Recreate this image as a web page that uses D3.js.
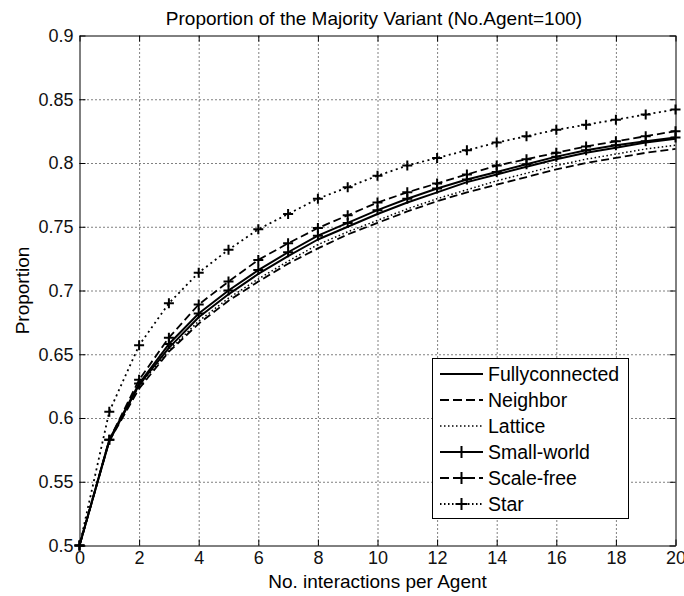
<!DOCTYPE html>
<html>
<head>
<meta charset="utf-8">
<script src="https://cdn.jsdelivr.net/npm/d3@7/dist/d3.min.js"></script>
<style>
  html, body { margin: 0; padding: 0; background: #fff; }
  svg { display: block; font-family: "Liberation Sans", Arial, Helvetica, sans-serif; }
</style>
</head>
<body>
<svg id="chart" width="684" height="596"></svg>
<script>
// ---- data ----
const xValues = d3.range(0, 21); // interactions 0..20
const seriesNames = ["Fullyconnected", "Neighbor", "Lattice", "Small-world", "Scale-free", "Star"];
const fullyconnected = [0.500, 0.582, 0.626, 0.655, 0.679, 0.697, 0.713, 0.727, 0.740, 0.750, 0.760, 0.769, 0.777, 0.785, 0.791, 0.797, 0.803, 0.808, 0.812, 0.816, 0.819];
const neighbor       = [0.500, 0.582, 0.623, 0.652, 0.674, 0.692, 0.707, 0.721, 0.733, 0.744, 0.753, 0.762, 0.770, 0.777, 0.783, 0.789, 0.795, 0.800, 0.804, 0.808, 0.811];
const lattice        = [0.500, 0.583, 0.625, 0.653, 0.676, 0.694, 0.709, 0.723, 0.736, 0.746, 0.755, 0.764, 0.772, 0.779, 0.786, 0.792, 0.798, 0.803, 0.807, 0.811, 0.814];
const smallWorld     = [0.500, 0.583, 0.627, 0.658, 0.682, 0.700, 0.716, 0.730, 0.743, 0.753, 0.763, 0.772, 0.780, 0.787, 0.793, 0.799, 0.805, 0.810, 0.814, 0.817, 0.820];
const scaleFree      = [0.500, 0.583, 0.630, 0.663, 0.689, 0.707, 0.724, 0.737, 0.749, 0.759, 0.769, 0.777, 0.784, 0.791, 0.798, 0.803, 0.808, 0.813, 0.817, 0.821, 0.825];
const star           = [0.500, 0.605, 0.657, 0.690, 0.714, 0.732, 0.748, 0.760, 0.772, 0.781, 0.790, 0.798, 0.804, 0.810, 0.816, 0.821, 0.826, 0.830, 0.834, 0.838, 0.842];
const xTickValues = [0, 2, 4, 6, 8, 10, 12, 14, 16, 18, 20];
const yTickValues = [0.5, 0.55, 0.6, 0.65, 0.7, 0.75, 0.8, 0.85, 0.9];
const yTickLabels = ["0.5", "0.55", "0.6", "0.65", "0.7", "0.75", "0.8", "0.85", "0.9"];
const titleText = "Proportion of the Majority Variant (No.Agent=100)";
const xLabelText = "No. interactions per Agent";
const yLabelText = "Proportion";

// ---- styles (not data) ----
const styles = {
  "Fullyconnected": { dash: null, width: 2, marker: false },
  "Neighbor":       { dash: "8,4", width: 1.8, marker: false },
  "Lattice":        { dash: "1.5,2.5", width: 1.5, marker: false },
  "Small-world":    { dash: null, width: 2, marker: true },
  "Scale-free":     { dash: "8,4", width: 1.8, marker: true },
  "Star":           { dash: "2,3.5", width: 1.8, marker: true }
};
const allSeries = [fullyconnected, neighbor, lattice, smallWorld, scaleFree, star];

const svg = d3.select("#chart");
const L = 79.5, R = 675.5, T = 35.5, B = 545.5;
const x = d3.scaleLinear().domain([0, 20]).range([L, R]);
const y = d3.scaleLinear().domain([0.5, 0.9]).range([B, T]);

// grid
const gridX = svg.append("g").attr("transform", `translate(0,${B})`)
  .call(d3.axisBottom(x).tickValues(xTickValues.slice(1, -1)).tickSize(-(B - T)).tickFormat(""));
const gridY = svg.append("g").attr("transform", `translate(${L},0)`)
  .call(d3.axisLeft(y).tickValues(yTickValues.slice(1, -1)).tickSize(-(R - L)).tickFormat(""));
[gridX, gridY].forEach(g => {
  g.select(".domain").remove();
  g.selectAll("line").attr("stroke", "#000").attr("stroke-width", 1).attr("stroke-dasharray", "1,3");
});

// lines
const line = d3.line().x((d, i) => x(xValues[i])).y(d => y(d));
const plot = svg.append("g");
function plus(g, cx, cy, s) {
  g.append("path")
    .attr("d", `M${cx - s},${cy}H${cx + s}M${cx},${cy - s}V${cy + s}`)
    .attr("stroke", "#000").attr("stroke-width", 2).attr("fill", "none");
}
allSeries.forEach((vals, k) => {
  const st = styles[seriesNames[k]];
  plot.append("path").datum(vals)
    .attr("d", line)
    .attr("fill", "none")
    .attr("stroke", "#000")
    .attr("stroke-width", st.width)
    .attr("stroke-dasharray", st.dash)
    .attr("stroke-linejoin", "round");
  if (st.marker) {
    vals.forEach((v, i) => plus(plot, x(xValues[i]), y(v), 5));
  }
});

// axes box + ticks
const fontTick = 18;
const axB = svg.append("g").attr("transform", `translate(0,${B})`)
  .call(d3.axisBottom(x).tickValues(xTickValues).tickSizeInner(-6).tickSizeOuter(0).tickPadding(6).tickFormat(d3.format("d")));
const axT = svg.append("g").attr("transform", `translate(0,${T})`)
  .call(d3.axisTop(x).tickValues(xTickValues).tickSizeInner(-6).tickSizeOuter(0).tickFormat(""));
const axL = svg.append("g").attr("transform", `translate(${L},0)`)
  .call(d3.axisLeft(y).tickValues(yTickValues).tickSizeInner(-6).tickSizeOuter(0).tickPadding(6)
    .tickFormat((d, i) => yTickLabels[i]));
const axR = svg.append("g").attr("transform", `translate(${R},0)`)
  .call(d3.axisRight(y).tickValues(yTickValues).tickSizeInner(-6).tickSizeOuter(0).tickFormat(""));
[axB, axT, axL, axR].forEach(g => {
  g.select(".domain").attr("stroke", "#000").attr("stroke-width", 1);
  g.selectAll(".tick line").attr("stroke", "#000").attr("stroke-width", 1);
  g.selectAll(".tick text").attr("fill", "#111").attr("font-size", fontTick)
    .attr("font-family", '"Liberation Sans", Arial, sans-serif');
});

// title & labels
svg.append("text").attr("x", 374).attr("y", 25).attr("text-anchor", "middle")
  .attr("font-size", 19).attr("fill", "#000").text(titleText);
svg.append("text").attr("x", (L + R) / 2).attr("y", 588).attr("text-anchor", "middle")
  .attr("font-size", 19).attr("fill", "#000").text(xLabelText);
svg.append("text").attr("transform", `translate(29,${(T + B) / 2}) rotate(-90)`).attr("text-anchor", "middle")
  .attr("font-size", 19).attr("fill", "#000").text(yLabelText);

// legend
const lg = svg.append("g");
lg.append("rect").attr("x", 432.5).attr("y", 358.5).attr("width", 196).attr("height", 160)
  .attr("fill", "#fff").attr("stroke", "#000").attr("stroke-width", 1);
seriesNames.forEach((name, i) => {
  const st = styles[name];
  const cy = 374 + i * 26;
  lg.append("line").attr("x1", 440).attr("x2", 483).attr("y1", cy).attr("y2", cy)
    .attr("stroke", "#000").attr("stroke-width", st.dash && st.dash.startsWith("1") ? 1.3 : 2)
    .attr("stroke-dasharray", st.dash ? (st.dash === "8,4" ? "9,4" : "1.5,2.5") : null);
  if (st.marker) plus(lg, 461.5, cy, 6);
  lg.append("text").attr("x", 488).attr("y", cy).attr("dy", "0.36em")
    .attr("font-size", 19.5).attr("fill", "#000").text(name);
});
</script>
</body>
</html>
